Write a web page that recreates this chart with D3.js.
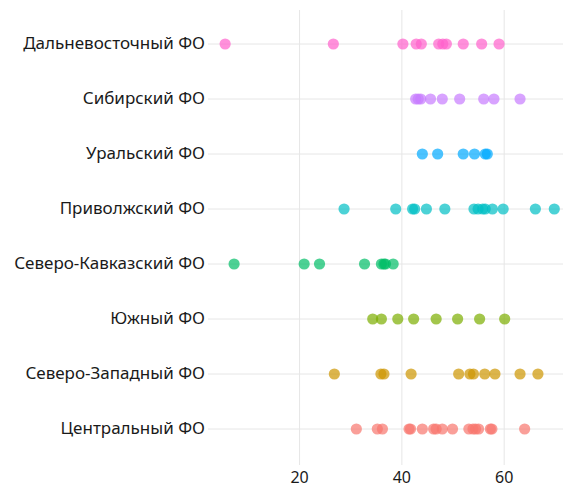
<!DOCTYPE html>
<html><head><meta charset="utf-8">
<script src="https://cdn.jsdelivr.net/npm/d3@7"></script>
<style>html,body{margin:0;padding:0;background:#fff;}svg{display:block;}</style>
</head><body>
<script>
const districts = ["Дальневосточный ФО","Сибирский ФО","Уральский ФО","Приволжский ФО","Северо-Кавказский ФО","Южный ФО","Северо-Западный ФО","Центральный ФО"];
const colors = ["#FF61CC","#C77CFF","#00A9FF","#00BFC4","#00BE67","#7CAE00","#CD9600","#F8766D"];
const farEast = [5.45,26.6,40.2,42.8,43.8,47.2,48.0,48.7,52.0,55.6,59.0];
const siberia = [42.7,43.2,43.7,45.6,47.9,51.3,56.0,58.0,63.1];
const urals = [44.0,47.0,52.0,54.2,56.3,56.7];
const volga = [28.7,38.8,42.1,42.5,44.8,48.4,54.1,54.9,55.8,56.3,57.7,59.8,66.1,69.8];
const northCaucasus = [7.2,20.9,23.9,32.7,36.0,36.5,36.8,38.3];
const south = [34.3,36.0,39.2,42.3,46.7,50.9,55.2,60.1];
const northWest = [26.8,35.9,36.5,41.8,51.1,53.3,54.0,56.2,58.2,63.1,66.6];
const central = [31.1,35.2,36.2,41.4,41.7,44.0,46.2,46.7,47.9,49.9,53.1,53.9,54.4,55.0,57.3,57.6,64.0];
const seriesValues = [farEast,siberia,urals,volga,northCaucasus,south,northWest,central];
const xTicks = [20,40,60];

const W = 563, H = 485;
const svg = d3.select("body").append("svg").attr("width",W).attr("height",H);
const x = d3.scaleLinear().domain([2.1,71.5]).range([208,563]);
const y = d3.scalePoint().domain(districts).range([44,429]);
const plotTop = 10, plotBottom = 465;

// grid
svg.append("g").selectAll("line").data(districts).join("line")
  .attr("x1",208).attr("x2",W).attr("y1",d=>y(d)).attr("y2",d=>y(d))
  .attr("stroke","#e6e6e6").attr("stroke-width",1);
svg.append("g").selectAll("line").data(xTicks).join("line")
  .attr("x1",d=>x(d)).attr("x2",d=>x(d)).attr("y1",plotTop).attr("y2",plotBottom)
  .attr("stroke","#e6e6e6").attr("stroke-width",1);

// y labels
const ff = "'Noto Sans', 'Open Sans', sans-serif";
svg.append("g").selectAll("text").data(districts).join("text")
  .attr("x",205).attr("y",d=>y(d)).attr("dy","0.27em")
  .attr("text-anchor","end").attr("font-family",ff).attr("font-size",17)
  .attr("fill","#1a1a1a").text(d=>d);

// x labels
svg.append("g").selectAll("text").data(xTicks).join("text")
  .attr("x",d=>x(d)).attr("y",482.5)
  .attr("text-anchor","middle").attr("font-family",ff).attr("font-size",16)
  .attr("fill","#1a1a1a").text(d=>d);

// points
districts.forEach((d,i)=>{
  svg.append("g").selectAll("circle").data(seriesValues[i]).join("circle")
    .attr("cx",v=>x(v)).attr("cy",y(d)).attr("r",5.6)
    .attr("fill",colors[i]).attr("fill-opacity",0.7);
});
</script>
</body></html>
